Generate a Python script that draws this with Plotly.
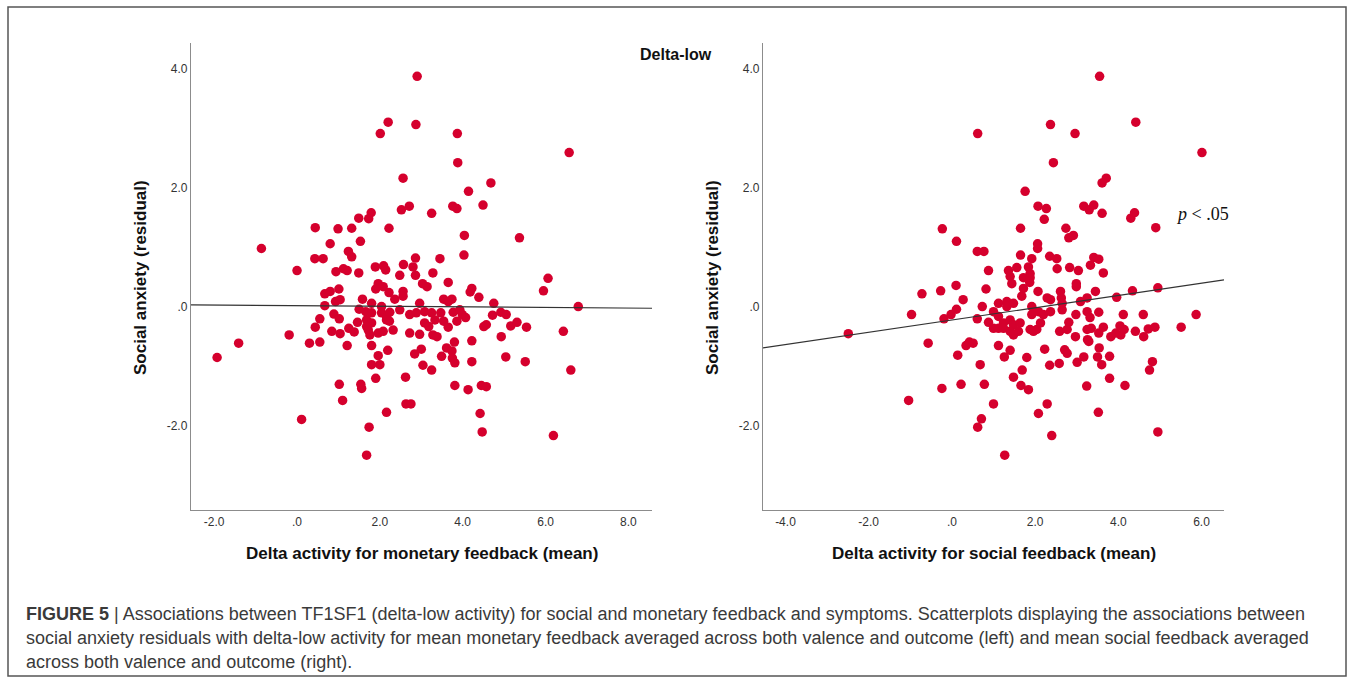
import plotly.graph_objects as go

# Monetary feedback panel: delta-low activity (x) vs social anxiety residual (y)
monetary_x = [
    2.90, 2.20, 2.01, 2.87, 2.56, 2.52, 2.71, 1.79, 1.73, 1.49, 0.44, 0.99, 1.32, 2.22, -0.86, 0.80, 1.53,
    1.24, 1.32, 0.43, 0.63, 2.86, 0.00, 0.94, 1.12, 1.21, 1.49, 1.89, 2.09, 2.14, 2.57, 2.48, 2.80, 2.86,
    3.87, 6.57, 3.88, 4.68, 4.14, 4.49, 3.76, 3.86, 3.25, 4.04, 5.37, 4.03, 3.45, 3.28, 3.65, 6.06,
    3.14, 3.03, 5.95, 4.22, 4.18, 4.39, 3.54, 3.65, 3.74, 4.75, 6.79, 2.96, 3.08, 3.25, 3.47, 3.77, 3.93,
    3.99, 4.07, 4.72, 4.92, 5.05, 3.33, 3.54, 3.86, 3.08, 3.18, 3.65, 4.51, 4.57, 5.16, 5.31, 5.54, 2.96,
    3.28, 3.38, 4.93, 6.43, 3.80, 4.22, 3.00, 3.61, 3.74, 3.49, 3.75, 3.81, 4.22, 5.04, 5.51, 3.04, 3.25,
    6.61, 3.81, 4.13, 4.45, 4.57, 4.42, 4.47, 6.19,
    1.96, 2.08, 1.90, 2.22, 2.56, 2.56, 2.36, 0.67, 0.80, 1.01, 0.93, 1.04, 1.58, 0.67, 1.80, 2.04, 1.50,
    1.66, 1.80, 2.04, 2.16, 2.24, 2.48, 2.72, 2.88, 0.89, 1.02, 0.55, 1.68, 1.80, 2.16, 2.23, 1.46, 0.44,
    1.25, 1.38, 0.84, 1.04, 1.68, 1.72, 1.76, 1.96, 2.08, 2.32, 2.72, -0.19, -1.41, -1.93, 0.30, 0.55,
    1.21, 1.80, 2.19, 1.96, 2.00, 1.80, 2.84, 1.90, 2.62, 1.02, 1.54, 1.56, 1.10, 2.63, 2.75, 2.16, 0.11,
    1.74, 1.68,
]
monetary_y = [
    3.87, 3.10, 2.91, 3.06, 2.16, 1.63, 1.69, 1.58, 1.48, 1.49, 1.33, 1.31, 1.32, 1.32, 0.98, 1.06, 1.10,
    0.93, 0.84, 0.81, 0.81, 0.82, 0.61, 0.59, 0.64, 0.61, 0.57, 0.67, 0.69, 0.62, 0.71, 0.53, 0.67, 0.53,
    2.91, 2.59, 2.42, 2.08, 1.94, 1.71, 1.69, 1.65, 1.57, 1.20, 1.16, 0.87, 0.81, 0.57, 0.41, 0.48,
    0.34, 0.39, 0.27, 0.31, 0.25, 0.16, 0.13, 0.09, 0.13, 0.06, 0.005, 0.06, -0.08, -0.10, -0.10, -0.09,
    -0.05, -0.13, -0.18, -0.14, -0.09, -0.13, -0.22, -0.24, -0.24, -0.27, -0.33, -0.34, -0.33, -0.30,
    -0.32, -0.26, -0.34, -0.46, -0.47, -0.50, -0.50, -0.41, -0.59, -0.57, -0.71, -0.69, -0.74, -0.83,
    -0.86, -0.94, -0.92, -0.84, -0.92, -0.98, -1.06, -1.06, -1.32, -1.39, -1.32, -1.34, -1.79, -2.10,
    -2.16,
    0.39, 0.34, 0.30, 0.24, 0.26, 0.18, 0.13, 0.22, 0.26, 0.30, 0.09, 0.12, 0.13, 0.02, 0.06, 0.005,
    -0.04, -0.08, -0.10, -0.10, -0.16, -0.09, -0.05, -0.13, -0.10, -0.12, -0.20, -0.20, -0.22, -0.27,
    -0.22, -0.24, -0.26, -0.34, -0.36, -0.42, -0.41, -0.45, -0.33, -0.39, -0.47, -0.44, -0.41, -0.39,
    -0.44, -0.47, -0.61, -0.85, -0.61, -0.59, -0.65, -0.65, -0.73, -0.82, -0.97, -0.97, -0.79, -1.20,
    -1.18, -1.30, -1.30, -1.37, -1.57, -1.63, -1.63, -1.77, -1.89, -2.02, -2.49,
]

# Social feedback panel
social_x = [
    0.62, -0.23, 0.11, 0.61, 0.77, 0.88,
    3.55, 2.37, 4.42, 2.96, 6.01, 2.44, 3.71, 3.61, 1.76, 2.07, 2.27, 2.22, 3.17, 3.30, 3.41, 3.61, 4.30,
    4.39, 4.90, 1.65, 2.74, 2.81, 2.92, 2.06, 2.06, 1.65, 1.92, 2.35, 2.52, 3.41, 3.53, 1.36, 1.56, 1.84,
    1.88, 2.53, 2.83, 3.04, 3.33, 3.64, 1.40, 1.72, 1.88,
    -0.72, -0.27, 0.10, 0.82, 0.27, 0.73, 1.12, -0.97, 0.11, -0.02, -0.19, 0.61, 1.00, 1.12, 0.88, 1.00,
    1.12, -2.49, -0.57, 0.34, 0.42, 0.51, 1.12, 0.14, 0.68, -0.24, 0.22, 0.78, -1.04, 1.00, 0.71, 0.62,
    1.44, 1.87, 2.99, 2.99, 2.07, 2.61, 2.63, 3.45, 4.34, 4.95, 1.72, 1.68, 3.96, 2.29, 2.37, 3.09, 3.25,
    1.32, 1.48, 1.32, 1.92, 2.08, 1.92, 2.20, 2.37, 2.65, 2.65, 2.98, 3.25, 3.32, 3.53, 4.12, 4.60, 5.87,
    1.24, 1.40, 1.48, 1.64, 1.24, 1.40, 1.60, 1.48, 1.88, 1.96, 2.04, 2.13, 2.59, 2.77, 2.81, 2.97, 3.25,
    3.35, 3.53, 3.64, 3.82, 3.94, 4.06, 4.04, 4.14, 4.41, 4.61, 4.72, 4.88, 5.51, 1.40, 1.26, 1.80, 2.23,
    2.35, 2.58, 2.71, 2.77, 3.01, 3.17, 3.29, 3.26, 3.54, 3.50, 3.60, 3.79, 4.82, 4.75, 1.69, 1.48, 1.66,
    1.84, 3.24, 3.79, 4.16, 2.29, 2.08, 3.52, 2.40, 4.95, 1.27,
]
social_y = [
    2.91, 1.31, 1.10, 0.93, 0.93, 0.61,
    3.87, 3.06, 3.10, 2.91, 2.59, 2.42, 2.16, 2.08, 1.94, 1.69, 1.65, 1.47, 1.69, 1.63, 1.71, 1.57, 1.49,
    1.58, 1.33, 1.32, 1.32, 1.16, 1.20, 1.06, 0.98, 0.87, 0.81, 0.85, 0.81, 0.83, 0.80, 0.61, 0.66, 0.67,
    0.56, 0.64, 0.66, 0.61, 0.70, 0.57, 0.51, 0.49, 0.49,
    0.22, 0.27, 0.36, 0.30, 0.12, 0.005, 0.06, -0.13, -0.04, -0.13, -0.20, -0.20, -0.08, -0.16, -0.26,
    -0.36, -0.36, -0.45, -0.61, -0.65, -0.59, -0.61, -0.65, -0.81, -0.97, -1.37, -1.30, -1.30, -1.57,
    -1.63, -1.88, -2.02,
    0.39, 0.41, 0.39, 0.34, 0.26, 0.26, 0.15, 0.26, 0.27, 0.32, 0.31, 0.18, 0.16, 0.15, 0.12, 0.09, 0.15,
    0.09, 0.06, 0.005, 0.005, -0.08, -0.13, -0.13, -0.08, -0.05, 0.06, -0.13, -0.08, -0.18, -0.09, -0.13,
    -0.13, -0.13, -0.27, -0.22, -0.30, -0.27, -0.36, -0.41, -0.41, -0.47, -0.38, -0.41, -0.38, -0.27,
    -0.41, -0.38, -0.26, -0.50, -0.38, -0.36, -0.44, -0.34, -0.50, -0.44, -0.47, -0.32, -0.38, -0.41,
    -0.50, -0.37, -0.34, -0.34, -0.73, -0.84, -0.85, -0.71, -0.98, -0.95, -0.72, -0.78, -0.93, -0.84,
    -0.58, -0.55, -0.69, -0.84, -0.97, -0.83, -0.92, -1.06, -1.06, -1.18, -1.32, -1.39, -1.33, -1.20,
    -1.32, -1.63, -1.79, -1.77, -2.16, -2.10, -2.49,
]

# Fit lines (intercept, slope) for each panel
monetary_fit = (0.020, -0.005)
social_fit = (-0.22, 0.103)

# Axis ranges and tick labels
x_range_monetary = [-2.56, 8.57]
x_range_social = [-4.54, 6.54]
y_range = [-3.41, 4.43]
x_ticks_monetary = [-2, 0, 2, 4, 6, 8]
x_ticks_social = [-4, -2, 0, 2, 4, 6]
y_ticks = [-2, 0, 2, 4]


def spss_label(v):
    s = f"{v:.1f}"
    return ".0" if v == 0 else s


W, H = 1354, 683
DOT = "#D5002D"
AXIS = "#8c8c8c"
SANS = "Arial, Liberation Sans, sans-serif"

fig = go.Figure()

panels = [
    (monetary_x, monetary_y, monetary_fit, x_range_monetary, "x", "y"),
    (social_x, social_y, social_fit, x_range_social, "x2", "y2"),
]
for xs, ys, (b0, b1), xr, xa, ya in panels:
    fig.add_trace(go.Scatter(
        x=xs, y=ys, mode="markers", xaxis=xa, yaxis=ya,
        marker=dict(color=DOT, size=9.5, line=dict(width=0)),
        showlegend=False, hoverinfo="skip",
    ))
    fig.add_trace(go.Scatter(
        x=xr, y=[b0 + b1 * xr[0], b0 + b1 * xr[1]], mode="lines",
        xaxis=xa, yaxis=ya, line=dict(color="#333333", width=1.2),
        showlegend=False, hoverinfo="skip",
    ))

tick_font = dict(family=SANS, size=12, color="#333333")
common_axis = dict(showline=True, linecolor=AXIS, linewidth=1.4, showgrid=False,
                   zeroline=False, ticks="", tickfont=tick_font, mirror=False)

y_dom = [1 - 510 / H, 1 - 43 / H]
fig.update_layout(
    width=W, height=H,
    margin=dict(l=0, r=0, t=0, b=0),
    paper_bgcolor="white", plot_bgcolor="white",
    xaxis=dict(domain=[191 / W, 652 / W], range=x_range_monetary, anchor="y",
               tickvals=x_ticks_monetary, ticktext=[spss_label(v) for v in x_ticks_monetary],
               **common_axis),
    yaxis=dict(domain=y_dom, range=y_range, anchor="x",
               tickvals=y_ticks, ticktext=[spss_label(v) for v in y_ticks], **common_axis),
    xaxis2=dict(domain=[763 / W, 1224 / W], range=x_range_social, anchor="y2",
                tickvals=x_ticks_social, ticktext=[spss_label(v) for v in x_ticks_social],
                **common_axis),
    yaxis2=dict(domain=y_dom, range=y_range, anchor="x2",
                tickvals=y_ticks, ticktext=[spss_label(v) for v in y_ticks], **common_axis),
)

title_font = dict(family=SANS, size=17, color="#111111")


def px(xp, yp):
    return xp / W, 1 - yp / H


annotations = []
for text, (xp, yp) in [
    ("<b>Delta activity for monetary feedback (mean)</b>", (421.5, 553)),
    ("<b>Delta activity for social feedback (mean)</b>", (993.5, 553)),
]:
    x, y = px(xp, yp)
    annotations.append(dict(text=text, x=x, y=y, xref="paper", yref="paper",
                            showarrow=False, font=title_font, xanchor="center", yanchor="middle"))
for xp in (141, 713):
    x, y = px(xp, 278)
    annotations.append(dict(text="<b>Social anxiety (residual)</b>", x=x, y=y, xref="paper",
                            yref="paper", showarrow=False, font=title_font, textangle=-90,
                            xanchor="center", yanchor="middle"))

x, y = px(676, 55)
annotations.append(dict(text="<b>Delta-low</b>", x=x, y=y, xref="paper", yref="paper",
                        showarrow=False, xanchor="center", yanchor="middle",
                        font=dict(family=SANS, size=16, color="#111111")))
x, y = px(1202, 214)
annotations.append(dict(text="<i>p</i> &lt; .05", x=x, y=y, xref="paper", yref="paper",
                        showarrow=False, xanchor="center", yanchor="middle",
                        font=dict(family="Liberation Serif, Times New Roman, serif", size=18,
                                  color="#111111")))

caption_lines = [
    "<b>FIGURE 5</b> | Associations between TF1SF1 (delta-low activity) for social and monetary feedback and symptoms. Scatterplots displaying the associations between",
    "social anxiety residuals with delta-low activity for mean monetary feedback averaged across both valence and outcome (left) and mean social feedback averaged",
    "across both valence and outcome (right).",
]
for i, line in enumerate(caption_lines):
    x, y = px(24, 614 + 24 * i)
    annotations.append(dict(text=line, x=x, y=y, xref="paper", yref="paper", showarrow=False,
                            xanchor="left", yanchor="middle",
                            font=dict(family=SANS, size=18, color="#3a3a3a")))

fig.update_layout(annotations=annotations)

# Figure frame
fig.add_shape(type="rect", xref="paper", yref="paper",
              x0=8 / W, x1=1346 / W, y0=1 - 676 / H, y1=1 - 7 / H,
              line=dict(color="#555555", width=1.5), fillcolor="rgba(0,0,0,0)")

fig.write_html("out.html")
